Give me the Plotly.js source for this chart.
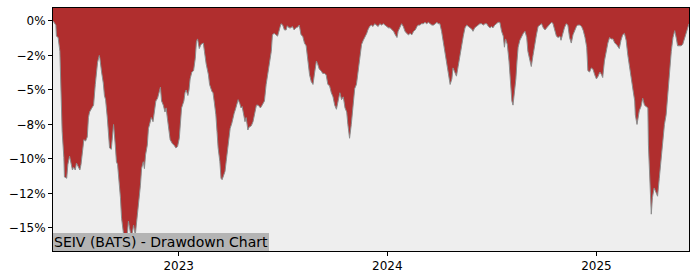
<!DOCTYPE html>
<html>
<head>
<meta charset="utf-8">
<script src="https://cdn.plot.ly/plotly-3.0.1.min.js"></script>
<style>html,body{margin:0;padding:0;background:#fff;}#chart{width:700px;height:280px;}</style>
</head>
<body>
<div id="chart"></div>
<script>
// Drawdown series (percent)
const dates = [
"2022-05-26","2022-05-31","2022-06-01","2022-06-04","2022-06-07","2022-06-09","2022-06-11","2022-06-14","2022-06-15","2022-06-19",
"2022-06-21","2022-06-24","2022-06-26","2022-06-29","2022-07-01","2022-07-04","2022-07-06","2022-07-09","2022-07-12","2022-07-14",
"2022-07-16","2022-07-19","2022-07-22","2022-07-25","2022-07-27","2022-07-29","2022-08-02","2022-08-05","2022-08-08","2022-08-10",
"2022-08-12","2022-08-15","2022-08-16","2022-08-19","2022-08-22","2022-08-24","2022-08-26","2022-08-29","2022-08-31","2022-09-02",
"2022-09-05","2022-09-07","2022-09-09","2022-09-12","2022-09-14","2022-09-16","2022-09-19","2022-09-21","2022-09-23","2022-09-26",
"2022-09-28","2022-09-30","2022-10-03","2022-10-05","2022-10-07","2022-10-10","2022-10-12","2022-10-14","2022-10-17","2022-10-19",
"2022-10-21","2022-10-24","2022-10-26","2022-10-28","2022-10-31","2022-11-02","2022-11-04","2022-11-07","2022-11-09","2022-11-11",
"2022-11-14","2022-11-17","2022-11-22","2022-11-25","2022-11-28","2022-11-30","2022-12-02","2022-12-05","2022-12-08","2022-12-10",
"2022-12-12","2022-12-15","2022-12-17","2022-12-21","2022-12-24","2022-12-27","2022-12-30","2023-01-02","2023-01-04","2023-01-06",
"2023-01-10","2023-01-12","2023-01-14","2023-01-17","2023-01-19","2023-01-21","2023-01-24","2023-01-27","2023-01-30","2023-02-01",
"2023-02-03","2023-02-06","2023-02-09","2023-02-13","2023-02-15","2023-02-18","2023-02-22","2023-02-24","2023-02-28","2023-03-02",
"2023-03-04","2023-03-07","2023-03-09","2023-03-11","2023-03-14","2023-03-16","2023-03-18","2023-03-21","2023-03-23","2023-03-25",
"2023-03-28","2023-03-30","2023-04-01","2023-04-04","2023-04-06","2023-04-08","2023-04-11","2023-04-13","2023-04-15","2023-04-18",
"2023-04-20","2023-04-22","2023-04-25","2023-04-27","2023-04-29","2023-05-02","2023-05-04","2023-05-08","2023-05-11","2023-05-15",
"2023-05-17","2023-05-20","2023-05-24","2023-05-27","2023-05-31","2023-06-03","2023-06-06","2023-06-09","2023-06-12","2023-06-14",
"2023-06-17","2023-06-20","2023-06-23","2023-06-26","2023-06-29","2023-07-02","2023-07-05","2023-07-08","2023-07-10","2023-07-13",
"2023-07-16","2023-07-19","2023-07-22","2023-07-25","2023-07-28","2023-07-31","2023-08-03","2023-08-06","2023-08-09","2023-08-12",
"2023-08-15","2023-08-18","2023-08-21","2023-08-24","2023-08-27","2023-08-30","2023-09-01","2023-09-04","2023-09-07","2023-09-10",
"2023-09-13","2023-09-16","2023-09-19","2023-09-22","2023-09-25","2023-09-28","2023-10-01","2023-10-04","2023-10-07","2023-10-10",
"2023-10-13","2023-10-16","2023-10-19","2023-10-22","2023-10-24","2023-10-27","2023-10-30","2023-11-02","2023-11-05","2023-11-08",
"2023-11-11","2023-11-14","2023-11-17","2023-11-20","2023-11-23","2023-11-26","2023-11-28","2023-12-01","2023-12-04","2023-12-07",
"2023-12-10","2023-12-13","2023-12-16","2023-12-19","2023-12-22","2023-12-25","2023-12-28","2024-01-03","2024-01-06","2024-01-09",
"2024-01-12","2024-01-15","2024-01-18","2024-01-20","2024-01-23","2024-01-26","2024-01-29","2024-02-01","2024-02-04","2024-02-07",
"2024-02-10","2024-02-13","2024-02-16","2024-02-19","2024-02-22","2024-02-24","2024-02-27","2024-03-01","2024-03-04","2024-03-07",
"2024-03-10","2024-03-13","2024-03-16","2024-03-19","2024-03-22","2024-03-25","2024-03-28","2024-03-30","2024-04-02","2024-04-05",
"2024-04-08","2024-04-11","2024-04-14","2024-04-17","2024-04-20","2024-04-23","2024-04-25","2024-04-28","2024-05-01","2024-05-04",
"2024-05-07","2024-05-10","2024-05-13","2024-05-16","2024-05-19","2024-05-22","2024-05-25","2024-05-28","2024-05-30","2024-06-02",
"2024-06-05","2024-06-08","2024-06-11","2024-06-14","2024-06-17","2024-06-20","2024-06-23","2024-06-26","2024-06-29","2024-07-01",
"2024-07-04","2024-07-07","2024-07-10","2024-07-13","2024-07-16","2024-07-19","2024-07-22","2024-07-24","2024-07-26","2024-07-29",
"2024-08-01","2024-08-03","2024-08-06","2024-08-08","2024-08-10","2024-08-13","2024-08-15","2024-08-17","2024-08-20","2024-08-23",
"2024-08-26","2024-08-29","2024-09-01","2024-09-03","2024-09-06","2024-09-09","2024-09-12","2024-09-15","2024-09-18","2024-09-21",
"2024-09-24","2024-09-27","2024-09-30","2024-10-03","2024-10-06","2024-10-09","2024-10-12","2024-10-15","2024-10-17","2024-10-20",
"2024-10-23","2024-10-26","2024-10-29","2024-10-31","2024-11-03","2024-11-06","2024-11-09","2024-11-12","2024-11-15","2024-11-18",
"2024-11-21","2024-11-24","2024-11-27","2024-11-29","2024-12-03","2024-12-06","2024-12-09","2024-12-12","2024-12-15","2024-12-17",
"2024-12-20","2024-12-23","2024-12-26","2024-12-29","2025-01-01","2025-01-04","2025-01-07","2025-01-10","2025-01-12","2025-01-15",
"2025-01-18","2025-01-21","2025-01-24","2025-01-27","2025-01-30","2025-02-02","2025-02-05","2025-02-07","2025-02-10","2025-02-13",
"2025-02-16","2025-02-19","2025-02-22","2025-02-25","2025-02-28","2025-03-03","2025-03-06","2025-03-09","2025-03-10","2025-03-13",
"2025-03-15","2025-03-17","2025-03-20","2025-03-23","2025-03-26","2025-03-29","2025-04-01","2025-04-02","2025-04-04","2025-04-06",
"2025-04-07","2025-04-09","2025-04-12","2025-04-15","2025-04-18","2025-04-21","2025-04-24","2025-04-27","2025-04-30","2025-05-03",
"2025-05-06","2025-05-09","2025-05-12","2025-05-15","2025-05-18","2025-05-21","2025-05-23","2025-05-26","2025-05-29","2025-06-01",
"2025-06-04","2025-06-07","2025-06-10","2025-06-12"
];
const drawdown = [
0.0,-0.3,-1.1,-1.2,-2.2,-4.9,-8.0,-9.9,-11.3,-11.4,
-10.4,-9.8,-10.2,-10.8,-10.6,-10.8,-10.3,-10.5,-10.8,-10.4,
-9.7,-8.6,-8.7,-8.4,-7.0,-6.6,-6.3,-6.1,-4.6,-3.9,
-3.0,-2.5,-2.7,-3.7,-4.5,-5.4,-5.7,-7.0,-8.5,-9.2,
-9.3,-8.3,-7.5,-9.0,-10.2,-10.4,-11.6,-12.8,-14.3,-15.3,
-15.7,-16.6,-15.5,-14.5,-15.0,-15.7,-15.3,-14.8,-15.5,-14.8,
-13.8,-12.8,-11.9,-10.7,-10.2,-10.7,-9.7,-9.0,-7.8,-7.5,
-7.0,-7.3,-5.8,-5.6,-5.0,-4.8,-5.8,-6.1,-6.6,-6.3,
-7.0,-8.0,-8.6,-8.9,-9.0,-9.2,-9.1,-8.5,-7.3,-6.3,
-5.8,-5.2,-5.0,-5.4,-5.0,-4.2,-3.7,-3.6,-2.7,-1.5,
-1.3,-2.0,-1.7,-1.6,-2.2,-3.1,-3.9,-4.6,-5.1,-5.2,
-5.8,-6.8,-8.0,-9.2,-10.2,-11.4,-11.5,-11.2,-10.9,-10.2,
-9.0,-8.3,-7.8,-7.4,-7.0,-6.7,-6.3,-6.0,-5.7,-6.0,
-6.3,-6.2,-6.8,-7.3,-7.0,-7.9,-7.7,-7.6,-7.3,-6.6,
-6.1,-6.1,-6.3,-6.1,-5.8,-4.6,-3.7,-2.9,-2.2,-1.0,
-0.9,-1.0,-1.1,-0.65,-0.2,-0.3,-0.65,-0.65,-0.35,-0.5,
-0.5,-0.4,-0.65,-0.5,-0.45,-0.3,-1.0,-1.1,-1.6,-1.8,
-2.7,-3.9,-4.4,-4.6,-3.7,-2.9,-3.1,-3.5,-3.6,-3.8,
-3.8,-3.9,-4.6,-4.7,-5.2,-5.5,-6.1,-6.4,-5.8,-5.2,
-5.7,-5.5,-6.3,-6.6,-7.5,-8.5,-7.5,-6.1,-4.9,-4.6,
-3.7,-2.7,-1.7,-1.4,-1.2,-0.9,-0.65,-0.4,-0.3,-0.4,
-0.2,-0.3,-0.4,-0.2,-0.3,-0.2,-0.3,-0.5,-0.5,-0.65,
-0.75,-1.0,-1.2,-0.75,-0.4,-0.2,-0.4,-0.75,-0.9,-1.0,
-0.9,-1.0,-0.75,-0.65,-0.4,-0.3,-0.3,-0.2,-0.2,-0.1,
-0.2,-0.1,-0.2,-0.3,-0.3,-0.2,-0.1,-0.2,-0.2,-0.75,
-1.5,-2.2,-3.2,-3.9,-4.6,-4.2,-3.4,-3.7,-4.0,-3.3,
-2.5,-1.8,-1.1,-0.5,-0.3,-0.4,-0.5,-0.6,-0.75,-0.5,
-0.4,-0.3,-0.2,-0.2,-0.3,-0.2,-0.2,-0.4,-0.5,-0.4,
-0.5,-0.3,-0.2,-0.1,-0.1,-0.75,-1.1,-1.9,-1.3,-1.7,
-2.9,-4.4,-5.8,-6.1,-5.4,-4.2,-2.9,-1.9,-1.4,-1.1,
-0.9,-0.75,-1.2,-2.2,-2.9,-3.3,-2.5,-1.6,-1.0,-0.4,
-0.3,-0.2,-0.5,-0.65,-0.5,-0.3,-0.2,-0.1,-0.2,-0.65,
-1.1,-1.2,-1.1,-1.4,-0.9,-0.5,-0.2,-0.3,-1.2,-1.6,
-1.0,-0.65,-0.4,-0.3,-0.3,-0.4,-0.7,-1.2,-1.9,-3.6,
-3.7,-3.4,-3.5,-3.9,-4.2,-4.0,-3.7,-3.9,-4.1,-2.9,
-2.2,-1.6,-1.2,-1.3,-1.3,-1.6,-1.7,-1.8,-2.0,-1.4,
-1.0,-0.9,-1.4,-2.5,-3.4,-4.4,-5.0,-5.8,-6.8,-7.5,
-6.9,-6.5,-6.2,-5.6,-6.1,-6.2,-6.3,-9.0,-11.6,-12.8,
-14.0,-12.8,-12.1,-12.4,-12.7,-11.4,-9.9,-8.5,-7.5,-6.8,
-5.1,-3.6,-2.2,-1.2,-0.7,-1.3,-1.8,-1.8,-1.8,-1.7,
-1.3,-1.0,-0.5,-0.2
];
const yTickVals = [0, -2.5, -5, -7.5, -10, -12.5, -15];
const yTickText = ["0%", "−2%", "−5%", "−8%", "−10%", "−12%", "−15%"];
const xTickVals = ["2023-01-01", "2024-01-01", "2025-01-01"];
const xTickText = ["2023", "2024", "2025"];
const chartLabel = "SEIV (BATS) - Drawdown Chart";

const Y_RANGE = [-16.67, 0.94];
const topEdge = dates.map(() => Y_RANGE[1]);

const traces = [
  {x: dates, y: drawdown, type: "scatter", mode: "lines",
   line: {color: "#8c8c8c", width: 1}, hoverinfo: "skip", showlegend: false},
  {x: dates, y: topEdge, type: "scatter", mode: "lines", fill: "tonexty",
   fillcolor: "#b02e2e", line: {width: 0, color: "rgba(0,0,0,0)"},
   hoverinfo: "skip", showlegend: false}
];

const tickFont = {family: "DejaVu Sans", size: 12, color: "#000"};

const layout = {
  width: 700, height: 280,
  margin: {l: 53, r: 11, t: 8, b: 29},
  paper_bgcolor: "#ffffff",
  plot_bgcolor: "#eeeeee",
  font: {family: "DejaVu Sans", size: 12, color: "#000"},
  showlegend: false,
  xaxis: {
    type: "date", range: [dates[0], dates[dates.length - 1]],
    tickvals: xTickVals, ticktext: xTickText,
    ticks: "outside", ticklen: 4, tickcolor: "#000", tickwidth: 1,
    showgrid: false, zeroline: false,
    showline: true, linecolor: "#000", linewidth: 1, mirror: true,
    tickfont: tickFont
  },
  yaxis: {
    range: Y_RANGE,
    tickvals: yTickVals, ticktext: yTickText,
    ticks: "outside", ticklen: 4, tickcolor: "#000", tickwidth: 1,
    showgrid: false, zeroline: false,
    showline: true, linecolor: "#000", linewidth: 1, mirror: true,
    tickfont: tickFont
  },
  annotations: [{
    text: chartLabel, xref: "paper", yref: "paper", x: 0, y: 0,
    xanchor: "left", yanchor: "bottom", showarrow: false,
    bgcolor: "#b4b4b4", borderpad: 1, borderwidth: 0,
    font: {family: "DejaVu Sans", size: 14, color: "#000"}
  }]
};

Plotly.newPlot("chart", traces, layout, {staticPlot: true, displayModeBar: false});
</script>
</body>
</html>
